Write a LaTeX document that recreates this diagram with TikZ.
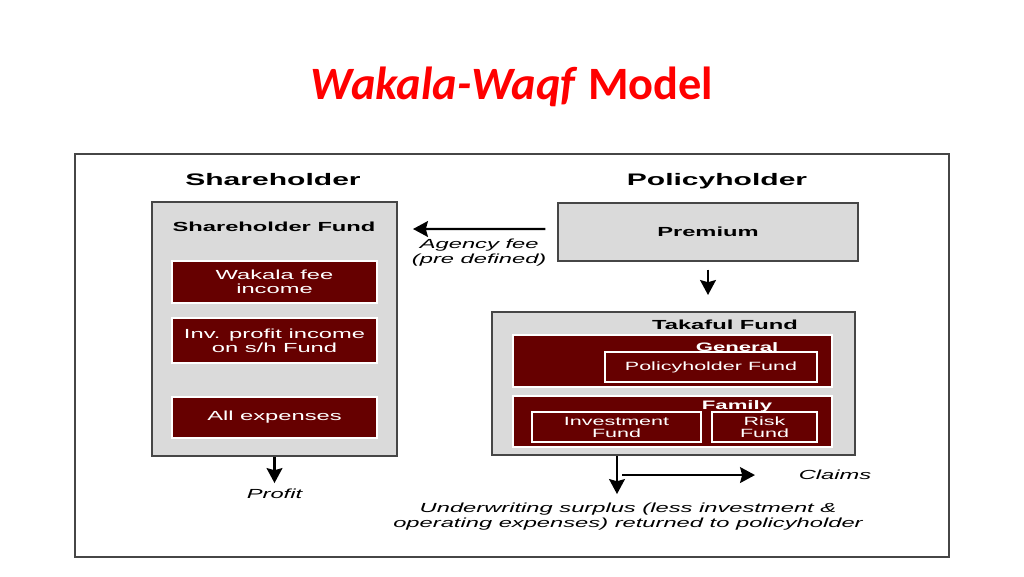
\documentclass[tikz,border=0pt]{standalone}
\usepackage{fontspec}
\setmainfont{Liberation Sans}
\newfontfamily\widefont[FakeStretch=1.8]{Liberation Sans}
\newfontfamily\titlefont{Carlito}
\usepackage{tikz}
\usetikzlibrary{arrows, arrows.meta, shapes, positioning, calc, fit}
\definecolor{fundred}{RGB}{102,0,0}
\definecolor{titlered}{RGB}{255,0,0}
\definecolor{boxgray}{RGB}{218,218,218}
\definecolor{edgegray}{RGB}{70,70,70}
\tikzset{
         mygroup/.style={draw=edgegray, line width=1.2pt, fill=boxgray},
         myred/.style={draw=white, line width=1pt, fill=fundred, text=white, align=center, font=\widefont\fontsize{7.5}{7.8}\selectfont},
         myinner/.style={draw=white, line width=0.9pt, fill=fundred, text=white, align=center, inner sep=0pt, font=\widefont\fontsize{6.8}{6.9}\selectfont},
         myhead/.style={font=\widefont\bfseries\fontsize{9.5}{11}\selectfont},
         mylabel/.style={font=\widefont\bfseries\fontsize{7.5}{9}\selectfont},
         mynote/.style={font=\widefont\itshape\fontsize{7.5}{8.6}\selectfont, align=center, inner sep=1pt}
      }

\begin{document}
\begin{tikzpicture}[x=0.02cm, y=-0.02cm, ->, >={Stealth[length=8.5pt, width=9pt, inset=1.2pt]}, line width=1.2pt]
   \useasboundingbox[fill=white] (0,0) rectangle (1024,576);
   % title and frame
   \node[anchor=base, text=titlered, font=\titlefont\bfseries\fontsize{26.4}{30}\selectfont] (title) at (512,99) {\itshape Wakala-Waqf\/ \upshape Model};
   \node[draw=edgegray, line width=1.5pt, minimum width=17.48cm, minimum height=8.06cm] (frame) at (512,355.5) {};
   % shareholder side
   \node[myhead] (shhead) at (273,180) {Shareholder};
   \node[mygroup, minimum width=4.9cm, minimum height=5.08cm] (shfund) at (274.5,329) {};
   \node[mylabel] (shfundlabel) at (274,227) {Shareholder Fund};
   \node[myred, minimum width=4.1cm, minimum height=0.84cm] (wakala) at (274.5,282) {Wakala fee\\income};
   \node[myred, minimum width=4.1cm, minimum height=0.9cm] (invprofit) at (274.5,340.5) {Inv. profit income\\on s/h Fund};
   \node[myred, minimum width=4.1cm, minimum height=0.82cm] (expenses) at (274.5,417.5) {All expenses};
   % policyholder side
   \node[myhead] (phhead) at (717,181) {Policyholder};
   \node[draw=edgegray, line width=0.8pt, fill=boxgray, minimum width=6cm, minimum height=1.16cm, font=\widefont\bfseries\fontsize{7.5}{9}\selectfont] (premium) at (708,232) {Premium};
   \node[mygroup, minimum width=7.26cm, minimum height=2.86cm] (takaful) at (673.5,383.5) {};
   \node[mylabel] (takafullabel) at (725,325) {Takaful Fund};
   \node[myred, minimum width=6.38cm, minimum height=1.04cm] (general) at (672.5,361) {};
   \node[myred, minimum width=6.38cm, minimum height=1.02cm] (family) at (672.5,421.5) {};
   \node[text=white, font=\widefont\bfseries\fontsize{7}{8}\selectfont, inner sep=0pt] (generallabel) at (737,347) {General};
   \node[text=white, font=\widefont\bfseries\fontsize{7}{8}\selectfont, inner sep=0pt] (familylabel) at (737,406) {Family};
   \node[myinner, minimum width=4.24cm, minimum height=0.6cm] (phfund) at (711,367) {Policyholder Fund};
   \node[myinner, minimum width=3.38cm, minimum height=0.6cm] (invfund) at (616.5,427) {Investment\\Fund};
   \node[myinner, minimum width=2.1cm, minimum height=0.6cm] (riskfund) at (764.5,427) {Risk\\Fund};
   % flows
   \coordinate (feestart) at ([xshift=-0.24cm, yshift=0.06cm]premium.west);
   \coordinate (feeend) at (413,229);
   \draw (feestart) -- (feeend) node[mynote, midway, below=4pt] {Agency fee\\(pre defined)};
   \coordinate (premout) at ([yshift=-0.16cm]premium.south);
   \draw (premout) -- (premout |- {(0,295)});
   \draw (shfund.south) -- ++(0,26) node[mynote, below=2pt] (profit) {Profit};
   \coordinate (fork) at ($(takaful.south)+(-56.5,0)$);
   \draw (fork) -- ++(0,38);
   \node[mynote] (surplus) at (628,516.5) {Underwriting surplus (less investment \&\\operating expenses) returned to policyholder};
   \coordinate (claimstart) at ($(fork)+(5,19)$);
   \node[mynote] (claims) at (835,475) {Claims};
   \draw (claimstart) -- ++(133,0);
\end{tikzpicture}
\end{document}
